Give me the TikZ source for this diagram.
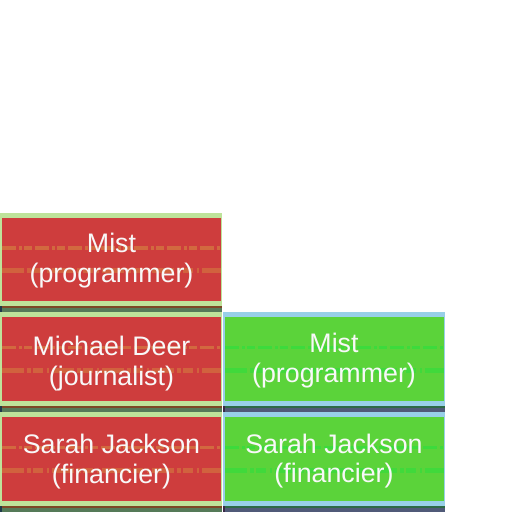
\documentclass[tikz,border=0pt]{standalone}
\usepackage{fontspec}
\setmainfont{Liberation Sans}
\definecolor{cardred}{RGB}{206,61,61}
\definecolor{rededge}{RGB}{190,227,154}
\definecolor{cardgreen}{RGB}{91,211,58}
\definecolor{greenedge}{RGB}{152,208,232}
\definecolor{brownline}{RGB}{125,72,38}
\definecolor{stripgreen}{RGB}{85,122,88}
\definecolor{darkline}{RGB}{46,107,70}
\definecolor{stripnavy}{RGB}{80,90,120}
\definecolor{barpurple}{RGB}{58,40,72}
\definecolor{barnavy}{RGB}{31,58,74}
\definecolor{dashorange}{RGB}{210,105,63}
\definecolor{dashgreen}{RGB}{60,219,60}
\definecolor{txt}{RGB}{248,248,248}
\tikzset{
  label/.style={text=txt, font=\fontsize{26.8}{30}\selectfont, inner sep=0pt, anchor=base},
  dashA/.style={line width=3.5pt, dash pattern=on 14pt off 3pt on 3pt off 2pt on 8pt off 3pt},
  dashB/.style={line width=5pt, dash pattern=on 22pt off 3pt on 4pt off 2pt on 10pt off 4pt on 2pt off 3pt, opacity=0.85},
}
\begin{document}
\begin{tikzpicture}[x=1pt,y=-1pt]
\useasboundingbox (0,0) rectangle (512,512);
\fill[white] (0,0) rectangle (512,512);
% ---------- column 1 (red cards) ----------
% card 1
\fill[rededge] (0,213) rectangle (222,306);
\fill[cardred] (2,218) rectangle (221,301);
\fill[brownline] (0,306) rectangle (222,308);
\fill[stripgreen] (0,308) rectangle (222,312);
\fill[barnavy] (0,306) rectangle (2,312);
\draw[dashorange,dashA] (2,248) -- (221,248);
\draw[dashorange,dashB] (2,270) -- (221,270);
\node[label] (r1a) at (111.5,252) {Mist};
\node[label] (r1b) at (111.5,282) {(programmer)};
% card 2
\fill[rededge] (0,312) rectangle (222,406);
\fill[cardred] (2,317) rectangle (221,401);
\fill[brownline] (0,406) rectangle (222,408);
\fill[stripgreen] (0,408) rectangle (222,412);
\fill[barnavy] (0,406) rectangle (2,412);
\draw[dashorange,dashA] (2,347.5) -- (221,347.5);
\draw[dashorange,dashB] (2,370) -- (221,370);
\node[label] (r2a) at (111.5,355) {Michael Deer};
\node[label] (r2b) at (111.5,385) {(journalist)};
% card 3
\fill[rededge] (0,412) rectangle (222,506);
\fill[cardred] (2,417) rectangle (221,501);
\fill[brownline] (0,506) rectangle (222,508);
\fill[stripgreen] (0,508) rectangle (222,512);
\fill[barnavy] (0,506) rectangle (2,512);
\draw[dashorange,dashA] (2,447.5) -- (221,447.5);
\draw[dashorange,dashB] (2,470) -- (221,470);
\node[label] (r3a) at (111.5,453) {Sarah Jackson};
\node[label] (r3b) at (111.5,483) {(financier)};
% ---------- column 2 (green cards) ----------
% card 1
\fill[greenedge] (223,312) rectangle (445,406);
\fill[cardgreen] (225,317) rectangle (444,401);
\fill[darkline] (223,406) rectangle (445,408);
\fill[stripnavy] (223,408) rectangle (445,412);
\fill[barpurple] (223,406) rectangle (225,412);
\draw[dashgreen,dashA] (225,347.5) -- (444,347.5);
\draw[dashgreen,dashB] (225,370) -- (444,370);
\node[label] (g1a) at (334,352) {Mist};
\node[label] (g1b) at (334,382) {(programmer)};
% card 2
\fill[greenedge] (223,412) rectangle (445,506);
\fill[cardgreen] (225,417) rectangle (444,501);
\fill[darkline] (223,506) rectangle (445,508);
\fill[stripnavy] (223,508) rectangle (445,512);
\fill[barpurple] (223,506) rectangle (225,512);
\draw[dashgreen,dashA] (225,447.5) -- (444,447.5);
\draw[dashgreen,dashB] (225,470) -- (444,470);
\node[label] (g2a) at (334,453) {Sarah Jackson};
\node[label] (g2b) at (334,482) {(financier)};
\end{tikzpicture}
\end{document}
